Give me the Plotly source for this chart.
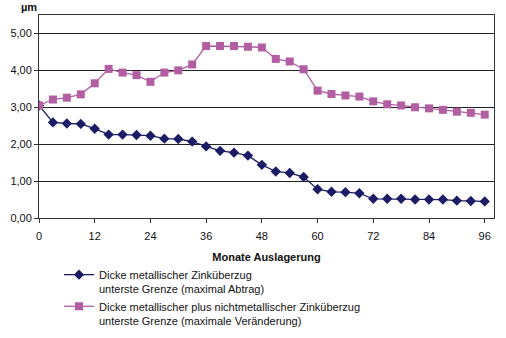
import plotly.graph_objects as go

months = list(range(0, 97, 3))
metal = [3.05, 2.59, 2.56, 2.55, 2.42, 2.26, 2.26, 2.25, 2.23, 2.15, 2.14, 2.07,
         1.94, 1.82, 1.77, 1.69, 1.44, 1.26, 1.22, 1.11, 0.78, 0.71, 0.70, 0.67,
         0.52, 0.52, 0.52, 0.50, 0.50, 0.50, 0.47, 0.46, 0.45]
metal_plus = [3.05, 3.21, 3.26, 3.35, 3.65, 4.04, 3.94, 3.87, 3.69, 3.94, 4.00, 4.16,
              4.66, 4.66, 4.66, 4.64, 4.62, 4.31, 4.24, 4.03, 3.45, 3.36, 3.32, 3.29,
              3.16, 3.08, 3.05, 3.00, 2.97, 2.93, 2.88, 2.85, 2.80]
x_ticks = list(range(0, 97, 12))
y_ticks = [0, 1, 2, 3, 4, 5]
names = ["Dicke metallischer Zinküberzug<br>unterste Grenze (maximal Abtrag)",
         "Dicke metallischer plus nichtmetallischer Zinküberzug<br>unterste Grenze (maximale Veränderung)"]

fig = go.Figure()
fig.add_trace(go.Scatter(x=months, y=metal, name=names[0], mode="lines+markers",
                         line=dict(color="#1c1c66", width=1.3),
                         marker=dict(symbol="diamond", size=8, color="#1c1c66")))
fig.add_trace(go.Scatter(x=months, y=metal_plus, name=names[1], mode="lines+markers",
                         line=dict(color="#b25ea3", width=1.3),
                         marker=dict(symbol="square", size=8, color="#b25ea3")))

fig.update_layout(
    width=506, height=338,
    margin=dict(l=39, r=12, t=15, b=120, autoexpand=False),
    paper_bgcolor="white", plot_bgcolor="white",
    font=dict(family="Liberation Sans, Arial, sans-serif", size=11, color="#111"),
    separators=",.",
    showlegend=True,
    legend=dict(x=(59-39)/455, y=(218-261)/203,
                xanchor="left", yanchor="top", font=dict(size=11), valign="top",
                tracegroupgap=4, itemwidth=30, bgcolor="rgba(0,0,0,0)"),
    annotations=[dict(text="<b>µm</b>", xref="paper", yref="paper",
                      x=-20/455, y=(218-7)/203, xanchor="left", yanchor="middle",
                      showarrow=False, font=dict(size=11))],
)
fig.update_xaxes(range=[0, 98], tickvals=x_ticks, showgrid=False,
                 showline=True, linecolor="#333", linewidth=1, mirror=True,
                 ticks="outside", ticklen=4, tickcolor="#333", tickangle=0,
                 ticklabelstandoff=4,
                 title=dict(text="<b>Monate Auslagerung</b>", standoff=12, font=dict(size=11)))
fig.update_yaxes(range=[0, 5.5], tickvals=y_ticks, tickformat=".2f",
                 showgrid=True, gridcolor="#222", gridwidth=1,
                 showline=True, linecolor="#333", linewidth=1, mirror=True,
                 ticks="outside", ticklen=4, tickcolor="#333", zeroline=False)

fig.write_html("out.html")
